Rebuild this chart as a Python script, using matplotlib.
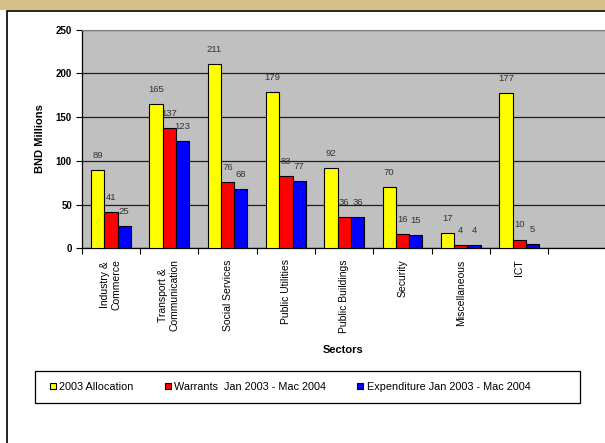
import numpy as np
import matplotlib.pyplot as plt
from matplotlib.patches import Rectangle

plt.rcParams['font.family'] = ['Liberation Sans', 'DejaVu Sans']

# Data
sectors = ['Industry &\nCommerce', 'Transport &\nCommunication', 'Social Services',
           'Public Utilities', 'Public Buildings', 'Security', 'Miscellaneous', 'ICT']
allocation = [89, 165, 211, 179, 92, 70, 17, 177]
warrants = [41, 137, 76, 83, 36, 16, 4, 10]
expenditure = [25, 123, 68, 77, 36, 15, 4, 5]
series_names = ['2003 Allocation', 'Warrants  Jan 2003 - Mac 2004',
                'Expenditure Jan 2003 - Mac 2004']
colors = ['#FFFF00', '#FF0000', '#0000FF']

W, H = 605, 443
fig = plt.figure(figsize=(W / 100, H / 100), dpi=100)

# tan header band and white panel with black border
fig.patches.append(Rectangle((0, 1 - 10 / H), 1, 10 / H, transform=fig.transFigure,
                             facecolor='#D4C087', edgecolor='none', zorder=-2))
fig.patches.append(Rectangle((7 / W, -0.01), 1.0, 1 - 10.5 / H + 0.01, transform=fig.transFigure,
                             facecolor='white', edgecolor='black', linewidth=1.2, zorder=-1))

ax = fig.add_axes([81.7 / W, 1 - 248.3 / H, (W - 81.7) / W, (248.3 - 29.5) / H])
ax.set_facecolor('#C0C0C0')

x = np.arange(len(sectors)) + 0.5
bw = 0.228
for i, (vals, col, name) in enumerate(zip([allocation, warrants, expenditure], colors, series_names)):
    bars = ax.bar(x + (i - 1) * bw, vals, bw, color=col, edgecolor='black',
                  linewidth=0.8, label=name, zorder=3)
    for b, v in zip(bars, vals):
        ax.annotate(str(v), (b.get_x() + b.get_width() / 2, v), xytext=(0, 10.5),
                    textcoords='offset points', ha='center', va='center',
                    fontsize=6.8, color='#333333', zorder=4)

ax.set_xlim(0, (W - 81.7) / 58.33)
ax.set_ylim(0, 250)
ax.set_yticks(range(0, 251, 50))
ax.yaxis.grid(True, color='#202020', linewidth=0.9, zorder=1)
ax.set_axisbelow(True)
ax.set_xticks(np.arange(0, 9))
ax.set_xticklabels([])
ax.set_xticks(x, minor=True)
ax.set_xticklabels(sectors, minor=True, rotation=90, fontsize=7.5, va='top',
                   ha='center', multialignment='center')
ax.tick_params(axis='x', which='minor', length=0, pad=8)
ax.tick_params(axis='x', which='major', length=4, width=0.8, direction='out')
ax.tick_params(axis='y', length=4, width=0.8, labelsize=7, pad=3)
for lbl in ax.get_yticklabels():
    lbl.set_fontweight('bold')

ax.spines['right'].set_visible(False)
ax.spines['top'].set_color('#808080')
ax.spines['left'].set_linewidth(0.9)
ax.spines['bottom'].set_linewidth(0.9)

ax.set_ylabel('BND Millions', fontsize=8, fontweight='bold', labelpad=8)
fig.text(343 / W, 1 - 350 / H, 'Sectors', fontsize=8, fontweight='bold',
         ha='center', va='center')

# legend
fig.patches.append(Rectangle((35 / W, 1 - 403 / H), 545 / W, 32.5 / H, transform=fig.transFigure,
                             facecolor='white', edgecolor='black', linewidth=0.9, zorder=1))
handles, labels = ax.get_legend_handles_labels()
leg = fig.legend(handles, labels, loc='center left', bbox_to_anchor=(40 / W, 1 - 387 / H),
                 ncol=3, frameon=False, fontsize=7.8, handlelength=0.55, handleheight=0.55,
                 handletextpad=0.3, columnspacing=2.9)

fig.savefig('out.png', dpi=100)
